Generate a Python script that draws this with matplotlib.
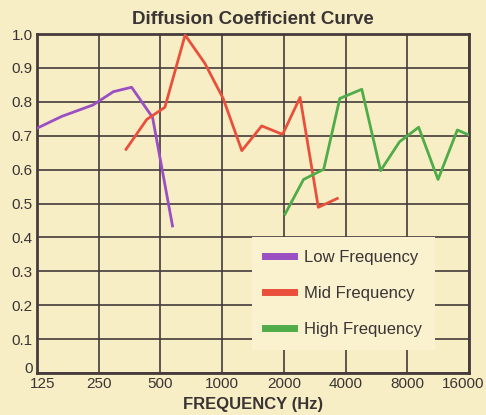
import numpy as np
import matplotlib.pyplot as plt
from matplotlib.ticker import FixedLocator, FixedFormatter
from matplotlib.transforms import ScaledTranslation

plt.rcParams['font.family'] = ['Liberation Sans', 'DejaVu Sans']

# Data
low_freq = [125, 165, 235, 295, 362, 458, 573]
low_vals = [0.722, 0.757, 0.791, 0.830, 0.843, 0.754, 0.434]

mid_freq = [340, 429, 526, 660, 823, 1012, 1248, 1560, 1973, 2400, 2946, 3646]
mid_vals = [0.660, 0.748, 0.784, 0.997, 0.914, 0.810, 0.656, 0.729, 0.704, 0.813, 0.489, 0.515]

high_freq = [2028, 2495, 3130, 3750, 4800, 5930, 7330, 9090, 11300, 14040, 16000]
high_vals = [0.469, 0.571, 0.601, 0.810, 0.837, 0.597, 0.682, 0.725, 0.571, 0.717, 0.702]

x_ticks = [125, 250, 500, 1000, 2000, 4000, 8000, 16000]
y_ticks = [0, 0.1, 0.2, 0.3, 0.4, 0.5, 0.6, 0.7, 0.8, 0.9, 1.0]
y_labels = ['0', '0.1', '0.2', '0.3', '0.4', '0.5', '0.6', '0.7', '0.8', '0.9', '1.0']

bg = '#F8EEC6'
grid_col = '#453b3b'
text_col = '#3a3434'

fig = plt.figure(figsize=(4.86, 4.15), dpi=100, facecolor=bg)
ax = fig.add_axes([0.076, 0.101, 0.889, 0.817], facecolor=bg)

ax.plot(low_freq, low_vals, color='#9a4fc2', lw=2, label='Low Frequency', zorder=3)
ax.plot(mid_freq, mid_vals, color='#e9503b', lw=2, label='Mid Frequency', zorder=3)
ax.plot(high_freq, high_vals, color='#4fac48', lw=2, label='High Frequency', zorder=3)

ax.set_xscale('log', base=2)
ax.set_xlim(125, 16000)
ax.set_ylim(0, 1.0)
ax.xaxis.set_major_locator(FixedLocator(x_ticks))
ax.xaxis.set_major_formatter(FixedFormatter([str(t) for t in x_ticks]))
ax.xaxis.set_minor_locator(FixedLocator([]))
ax.yaxis.set_major_locator(FixedLocator(y_ticks))
ax.yaxis.set_major_formatter(FixedFormatter(y_labels))

ax.grid(True, color=grid_col, lw=1.2, zorder=1)
ax.set_axisbelow(True)
for s in ax.spines.values():
    s.set_color(grid_col)
    s.set_linewidth(2)
ax.tick_params(length=0, labelsize=11, labelcolor=text_col, pad=3)

# nudge the crowded corner labels like the original
xl = ax.get_xticklabels()
yl = ax.get_yticklabels()
xl[0].set_transform(xl[0].get_transform() + ScaledTranslation(4 / 72, 0, fig.dpi_scale_trans))
xl[-1].set_transform(xl[-1].get_transform() + ScaledTranslation(-4 / 72, 0, fig.dpi_scale_trans))
yl[0].set_transform(yl[0].get_transform() + ScaledTranslation(0, 4 / 72, fig.dpi_scale_trans))

ax.set_title('Diffusion Coefficient Curve', fontsize=13.5, fontweight='bold',
             color=text_col, pad=7)
ax.set_xlabel('FREQUENCY (Hz)', fontsize=12, fontweight='bold', color=text_col, labelpad=4)

leg = ax.legend(loc='lower right', bbox_to_anchor=(0.921, 0.068), borderaxespad=0,
                frameon=True, facecolor='#FAF1CE', edgecolor='none', framealpha=1,
                fancybox=False, fontsize=12, handlelength=1.7, handleheight=0.6,
                labelspacing=1.25, borderpad=0.8, handletextpad=0.6, labelcolor=text_col)
for h in leg.get_lines():
    h.set_linewidth(5)

fig.savefig('out.png', dpi=100, facecolor=bg)
